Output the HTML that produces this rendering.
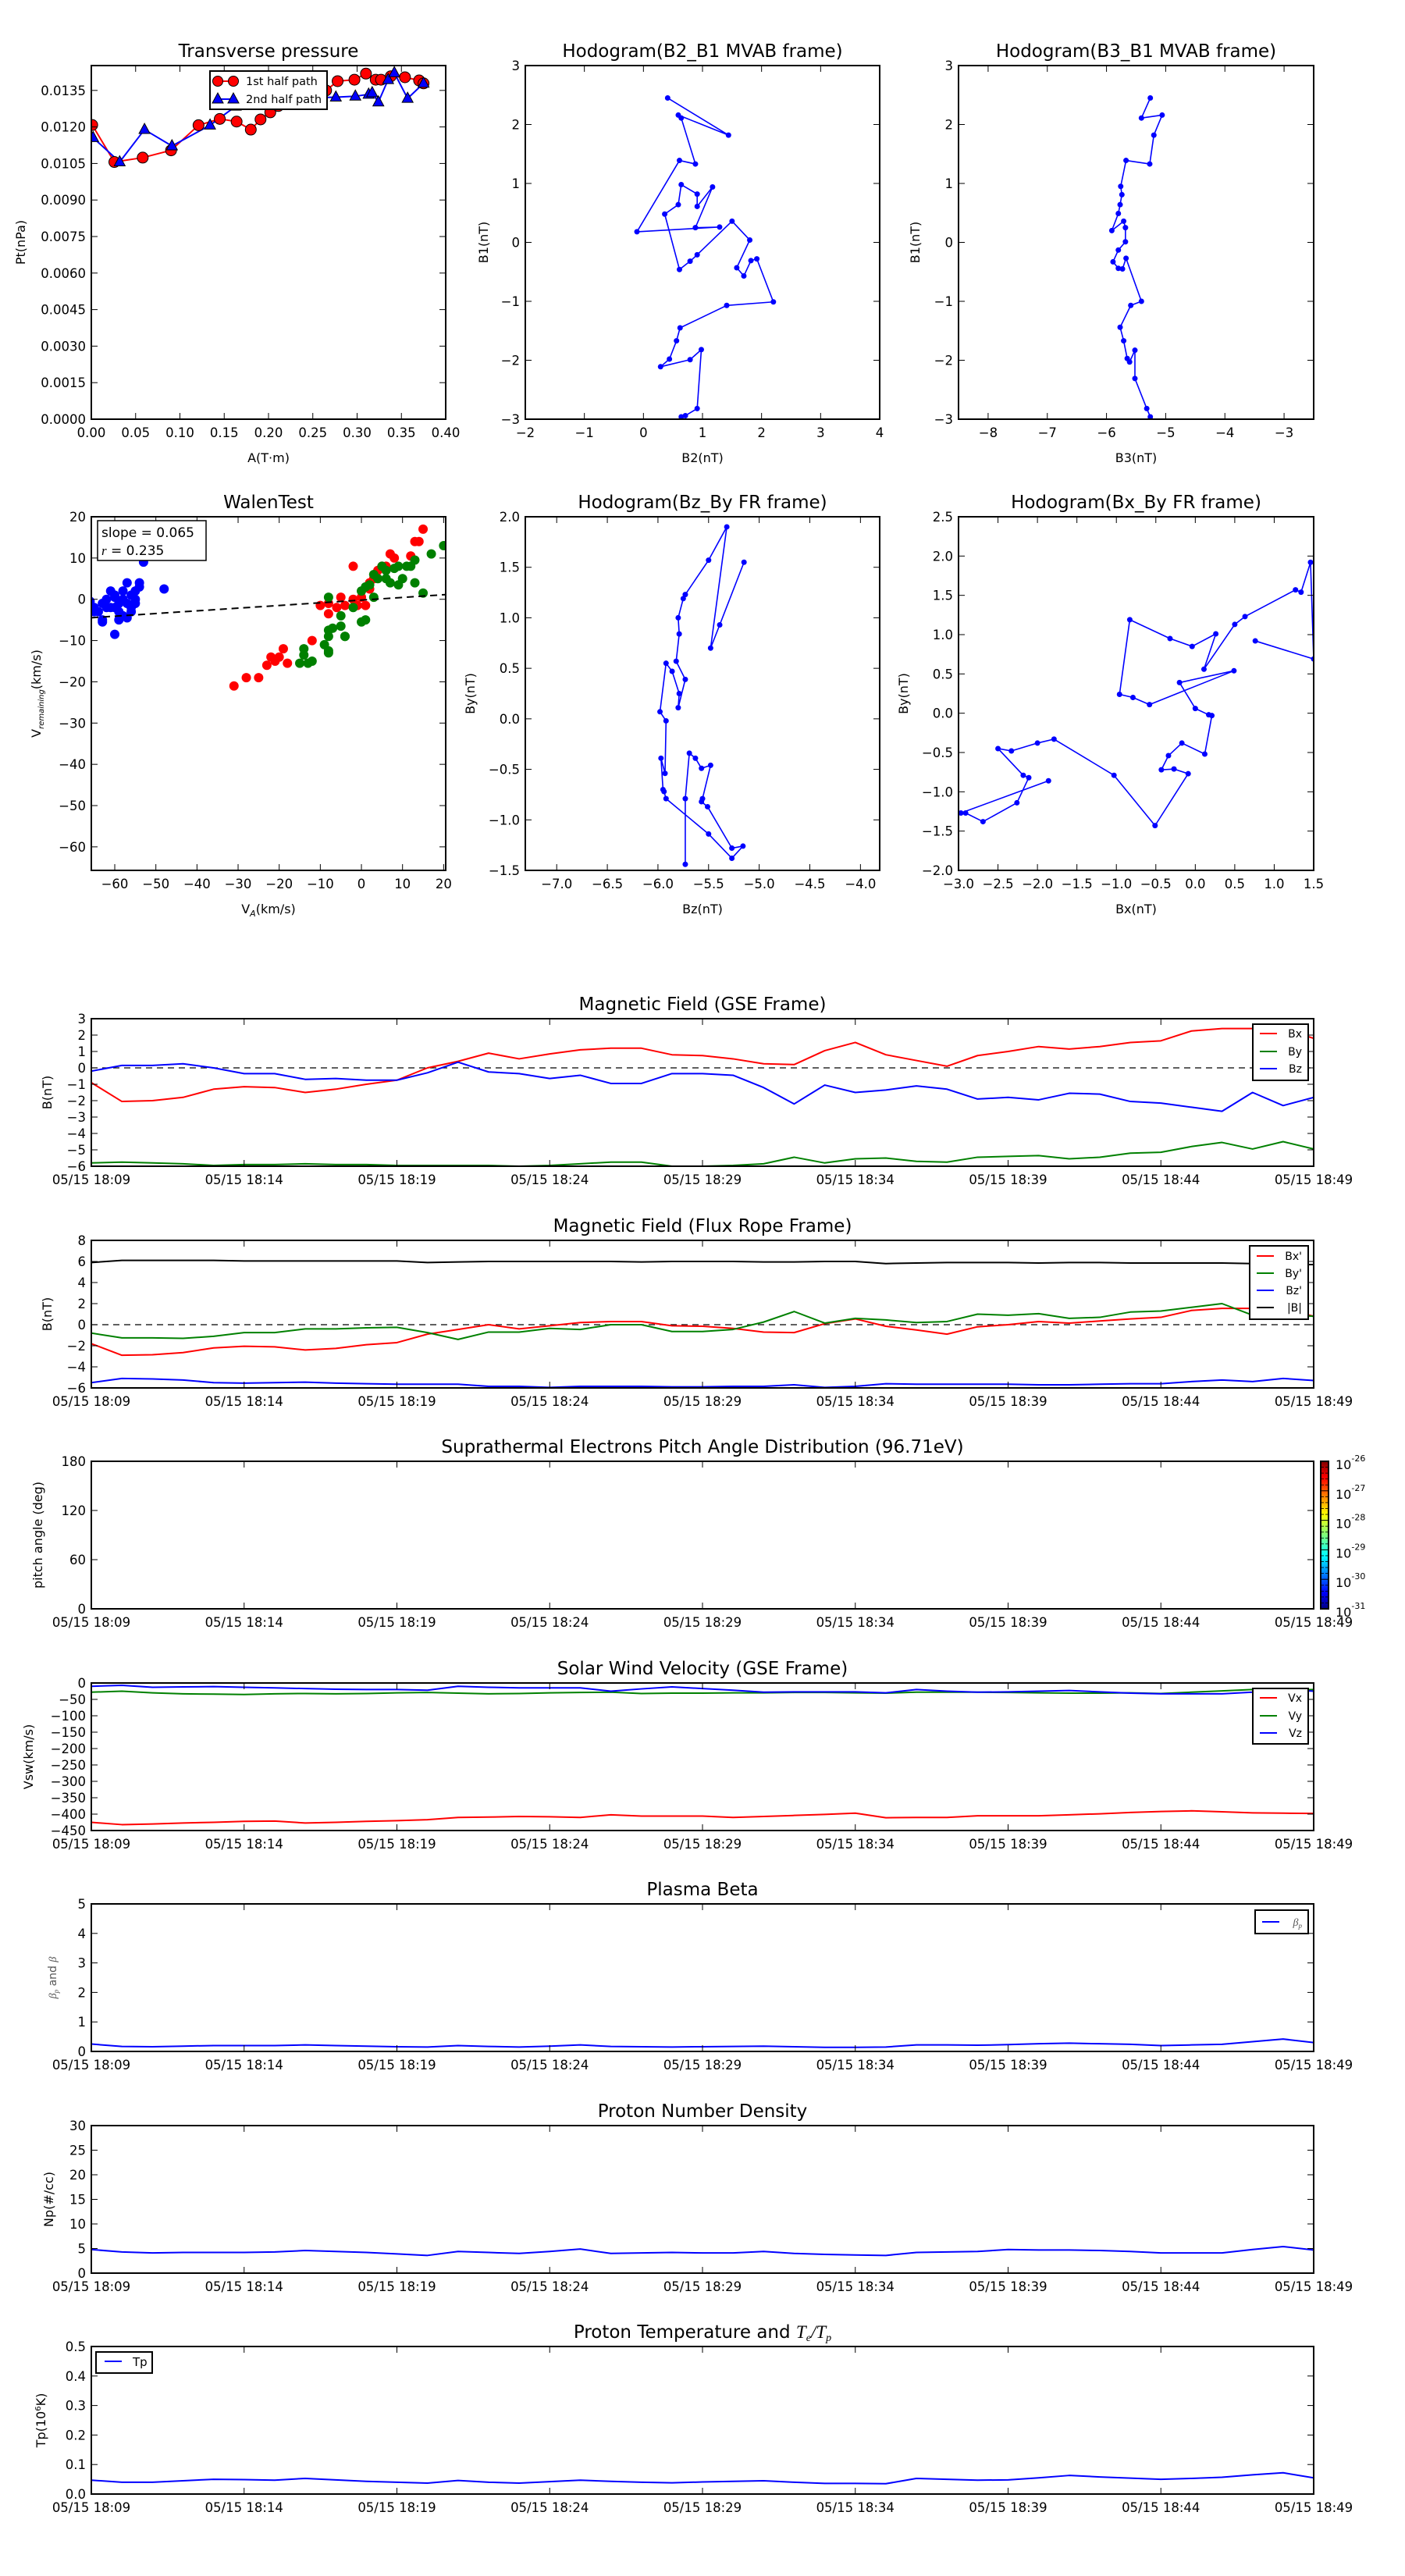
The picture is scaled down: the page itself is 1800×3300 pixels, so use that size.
<!DOCTYPE html>
<html><head><meta charset="utf-8"><title>Flux rope analysis</title>
<style>
html,body{margin:0;padding:0;background:#fff;}
svg{display:block;font-family:"DejaVu Sans","Liberation Sans",sans-serif;}
</style></head>
<body>
<svg id="fig" xmlns="http://www.w3.org/2000/svg" width="1800" height="3300" viewBox="0 0 1800 3300">
<defs>
<linearGradient id="jet" x1="0" y1="1" x2="0" y2="0">
<stop offset="0" stop-color="#000080"/><stop offset="0.11" stop-color="#0000ff"/><stop offset="0.36" stop-color="#00ffff"/><stop offset="0.5" stop-color="#7dff7a"/><stop offset="0.64" stop-color="#ffff00"/><stop offset="0.89" stop-color="#ff0000"/><stop offset="1" stop-color="#800000"/>
</linearGradient>
</defs>
<rect x="0" y="0" width="1800" height="3300" fill="#fff"/>
</svg>
<script>
// ---------- Transverse pressure ----------
const ptRedA=[0.001,0.026,0.058,0.090,0.121,0.145,0.164,0.180,0.191,0.202,0.211,0.230,0.250,0.265,0.278,0.297,0.310,0.321,0.327,0.338,0.354,0.370,0.375];
const ptRedP=[0.01208,0.01056,0.01074,0.01104,0.01207,0.01233,0.01222,0.01189,0.01231,0.01260,0.01286,0.01310,0.01330,0.01350,0.01388,0.01394,0.01419,0.01394,0.01394,0.01408,0.01404,0.01391,0.01379];
const ptBlueA=[0.002,0.032,0.060,0.091,0.134,0.163,0.190,0.230,0.255,0.276,0.298,0.313,0.317,0.324,0.335,0.342,0.357,0.375];
const ptBlueP=[0.01156,0.01056,0.01189,0.01122,0.01207,0.01285,0.01300,0.01310,0.01320,0.01322,0.01326,0.01334,0.01340,0.01302,0.01394,0.01422,0.01317,0.01379];
const ptXTicks=[0,0.05,0.1,0.15,0.2,0.25,0.3,0.35,0.4];
const ptXLabels=['0.00','0.05','0.10','0.15','0.20','0.25','0.30','0.35','0.40'];
const ptYTicks=[0,0.0015,0.003,0.0045,0.006,0.0075,0.009,0.0105,0.012,0.0135];
const ptYLabels=['0.0000','0.0015','0.0030','0.0045','0.0060','0.0075','0.0090','0.0105','0.0120','0.0135'];
// ---------- Hodogram B2_B1 ----------
const h1B2=[0.64,0.71,0.91,0.98,0.79,0.29,0.44,0.56,0.62,1.41,2.20,1.92,1.82,1.70,1.58,1.80,1.50,0.91,0.79,0.61,0.36,0.59,0.64,0.91,0.91,1.17,0.88,1.29,-0.11,0.61,0.88,0.64,0.59,1.44,0.41];
const h1B1=[-2.96,-2.94,-2.82,-1.82,-1.99,-2.11,-1.98,-1.67,-1.45,-1.07,-1.01,-0.28,-0.31,-0.57,-0.43,0.04,0.36,-0.21,-0.32,-0.46,0.48,0.64,0.98,0.82,0.61,0.94,0.25,0.26,0.18,1.39,1.33,2.11,2.16,1.82,2.45];
// ---------- Hodogram B3_B1 ----------
const h2B3=[-5.26,-5.32,-5.52,-5.52,-5.61,-5.65,-5.71,-5.77,-5.59,-5.41,-5.67,-5.73,-5.80,-5.89,-5.80,-5.68,-5.68,-5.71,-5.91,-5.80,-5.77,-5.74,-5.76,-5.67,-5.27,-5.20,-5.06,-5.41,-5.26];
const h2B1=[-2.96,-2.82,-2.31,-1.83,-2.03,-1.97,-1.67,-1.44,-1.07,-1.00,-0.27,-0.45,-0.44,-0.33,-0.13,0.01,0.25,0.36,0.20,0.49,0.64,0.81,0.95,1.39,1.33,1.82,2.16,2.11,2.45];
// ---------- Walen test ----------
const wBlueX=[-66,-65,-64,-63,-63,-63,-62,-61,-61,-60,-60,-60,-59,-59,-58,-58,-58,-57,-57,-57,-56,-56,-56,-55,-55,-54,-54,-53,-48,-65,-62,-59,-60,-55];
const wBlueY=[-0.5,-2,-3,-1,-5,-5.5,0,-2,2,1,-8.5,-2,-3,-1,0,-4,2,4,-4.5,-1,-2,-3,1,2,0,3,4,9,2.5,-3,-2,-5,0.5,-1];
const wRedX=[-31,-28,-25,-23,-22,-21,-20,-19,-18,-12,-10,-8,-8,-6,-5,-4,-2,-2,-1,1,2,2,3,4,5,6,7,8,12,13,14,15,0];
const wRedY=[-21,-19,-19,-16,-14,-15,-14,-12,-15.5,-10,-1.5,-3.5,-1,-2,0.5,-1.5,8,0,-1.5,-1.5,2.5,4,5,7,8,8,11,10,10.5,14,14,17,0.5];
const wGreenX=[-15,-14,-14,-13,-12,-9,-8,-8,-8,-8,-7,-8,-5,-5,-4,-4,-2,0,0,1,1,2,3,3,4,5,6,6,7,8,9,9,10,11,12,13,13,15,17,20];
const wGreenY=[-15.5,-12,-13.5,-15.5,-15,-11,-12.5,-13,-9,-7.5,-7,0.5,-4,-6.5,-9,-9,-2,-5.5,2,-5,3,3.5,0.5,6,5,8,5,7,4,7.5,3.5,8,5,8,8,9.5,4,1.5,11,13];
const walenSlope=0.065, walenIntercept=-0.2;
// ---------- Hodogram Bz_By ----------
const h3Bz=[-5.73,-5.73,-5.69,-5.63,-5.57,-5.48,-5.56,-5.57,-5.51,-5.27,-5.16,-5.27,-5.50,-5.92,-5.94,-5.95,-5.97,-5.93,-5.92,-5.98,-5.92,-5.86,-5.79,-5.80,-5.73,-5.82,-5.79,-5.80,-5.75,-5.73,-5.50,-5.32,-5.48,-5.39,-5.15];
const h3By=[-1.44,-0.79,-0.34,-0.39,-0.49,-0.46,-0.79,-0.82,-0.87,-1.28,-1.26,-1.38,-1.14,-0.79,-0.72,-0.70,-0.39,-0.54,-0.02,0.07,0.55,0.47,0.25,0.11,0.39,0.57,0.84,1.00,1.19,1.23,1.57,1.90,0.70,0.93,1.55];
// ---------- Hodogram Bx_By ----------
const h4Bx=[-1.86,-2.97,-2.91,-2.69,-2.26,-2.11,-2.18,-2.50,-2.33,-2.00,-1.79,-1.03,-0.51,-0.09,-0.27,-0.43,-0.34,-0.17,0.12,0.21,0.17,0.00,-0.20,0.49,-0.58,-0.79,-0.96,-0.83,-0.32,-0.04,0.26,0.11,0.50,0.63,1.27,1.34,1.46,1.50,0.76];
const h4By=[-0.86,-1.27,-1.27,-1.38,-1.14,-0.82,-0.79,-0.45,-0.48,-0.38,-0.33,-0.79,-1.43,-0.77,-0.71,-0.72,-0.54,-0.38,-0.52,-0.03,-0.02,0.06,0.39,0.54,0.11,0.20,0.24,1.19,0.95,0.85,1.01,0.56,1.13,1.23,1.57,1.54,1.92,0.69,0.92];
// ---------- Time series (1-minute samples, 18:09 .. 18:49) ----------
const timeTicks=[0,5,10,15,20,25,30,35,40];
const timeLabels=['05/15 18:09','05/15 18:14','05/15 18:19','05/15 18:24','05/15 18:29','05/15 18:34','05/15 18:39','05/15 18:44','05/15 18:49'];
const gseBx=[-0.9,-2.05,-2.0,-1.8,-1.3,-1.15,-1.2,-1.5,-1.3,-1.0,-0.75,0.0,0.4,0.9,0.55,0.85,1.1,1.2,1.2,0.8,0.75,0.55,0.25,0.2,1.05,1.55,0.8,0.45,0.1,0.75,1.0,1.3,1.15,1.3,1.55,1.65,2.25,2.4,2.4,2.4,1.8];
const gseBy=[-5.8,-5.75,-5.8,-5.85,-5.95,-5.9,-5.9,-5.85,-5.9,-5.9,-5.95,-5.95,-5.95,-5.95,-6.0,-5.95,-5.85,-5.75,-5.75,-6.0,-6.0,-5.95,-5.85,-5.45,-5.8,-5.55,-5.5,-5.7,-5.75,-5.45,-5.4,-5.35,-5.55,-5.45,-5.2,-5.15,-4.8,-4.55,-4.95,-4.5,-4.95];
const gseBz=[-0.2,0.15,0.15,0.25,0.0,-0.35,-0.35,-0.7,-0.65,-0.75,-0.75,-0.3,0.35,-0.25,-0.35,-0.65,-0.45,-0.95,-0.95,-0.35,-0.35,-0.45,-1.2,-2.2,-1.05,-1.5,-1.35,-1.1,-1.3,-1.9,-1.8,-1.95,-1.55,-1.6,-2.05,-2.15,-2.4,-2.65,-1.5,-2.3,-1.8];
const frBx=[-1.8,-2.9,-2.85,-2.65,-2.2,-2.05,-2.1,-2.4,-2.25,-1.9,-1.7,-0.9,-0.45,0.0,-0.4,-0.1,0.2,0.3,0.3,-0.1,-0.15,-0.35,-0.7,-0.75,0.1,0.55,-0.15,-0.5,-0.9,-0.2,0.0,0.3,0.15,0.35,0.55,0.7,1.35,1.55,1.55,1.5,0.8];
const frBy=[-0.8,-1.25,-1.25,-1.3,-1.1,-0.75,-0.75,-0.4,-0.4,-0.3,-0.25,-0.75,-1.4,-0.7,-0.7,-0.35,-0.45,0.0,0.0,-0.65,-0.65,-0.45,0.25,1.25,0.15,0.6,0.45,0.2,0.3,1.0,0.9,1.05,0.6,0.7,1.2,1.3,1.65,2.0,0.9,1.0,0.8];
const frBz=[-5.5,-5.1,-5.15,-5.25,-5.5,-5.55,-5.5,-5.45,-5.55,-5.6,-5.65,-5.65,-5.65,-5.85,-5.85,-5.95,-5.85,-5.85,-5.85,-5.9,-5.9,-5.85,-5.85,-5.7,-5.95,-5.85,-5.6,-5.65,-5.65,-5.65,-5.65,-5.7,-5.7,-5.65,-5.6,-5.6,-5.4,-5.25,-5.4,-5.1,-5.3];
const frBt=[5.9,6.1,6.1,6.1,6.1,6.05,6.05,6.05,6.05,6.05,6.05,5.9,5.95,6.0,6.0,6.0,6.0,6.0,5.95,6.0,6.0,6.0,5.95,5.95,6.0,6.0,5.8,5.85,5.9,5.9,5.9,5.85,5.9,5.9,5.85,5.85,5.85,5.85,5.8,5.7,5.7];
const vswVx=[-425,-432,-430,-427,-425,-422,-421,-427,-425,-422,-420,-417,-410,-409,-407,-408,-410,-402,-406,-406,-406,-410,-407,-404,-401,-397,-411,-410,-410,-405,-405,-405,-402,-399,-395,-392,-390,-393,-396,-397,-398];
const vswVy=[-28,-25,-30,-33,-34,-35,-33,-32,-33,-32,-30,-29,-31,-33,-32,-30,-29,-28,-32,-31,-31,-30,-30,-29,-29,-30,-31,-28,-28,-28,-29,-30,-31,-31,-30,-32,-28,-24,-20,-22,-20];
const vswVz=[-10,-7,-13,-12,-11,-13,-15,-17,-19,-20,-20,-22,-10,-13,-15,-15,-15,-25,-18,-12,-17,-22,-28,-27,-27,-27,-30,-20,-25,-28,-27,-25,-23,-27,-31,-33,-33,-33,-28,-20,-25];
const betaP=[0.25,0.17,0.16,0.18,0.2,0.2,0.2,0.22,0.2,0.18,0.16,0.15,0.2,0.17,0.15,0.18,0.22,0.17,0.16,0.15,0.16,0.17,0.18,0.16,0.14,0.14,0.15,0.22,0.22,0.21,0.23,0.26,0.28,0.26,0.24,0.2,0.22,0.24,0.33,0.42,0.3];
const protonNp=[4.8,4.3,4.1,4.2,4.2,4.2,4.3,4.6,4.4,4.2,3.9,3.6,4.4,4.2,4.0,4.4,4.9,4.0,4.1,4.2,4.1,4.1,4.4,4.0,3.8,3.7,3.6,4.2,4.3,4.4,4.8,4.7,4.7,4.6,4.4,4.1,4.1,4.1,4.8,5.4,4.7];
const protonTp=[0.047,0.04,0.04,0.045,0.05,0.049,0.047,0.053,0.048,0.043,0.04,0.037,0.046,0.04,0.037,0.042,0.047,0.043,0.04,0.038,0.041,0.043,0.045,0.04,0.036,0.036,0.035,0.053,0.05,0.047,0.048,0.055,0.063,0.058,0.054,0.05,0.053,0.057,0.065,0.072,0.055];
const cbExponents=['-26','-27','-28','-29','-30','-31'];

const NS='http://www.w3.org/2000/svg';
const svg=document.getElementById('fig');
let clipN=0;
function mk(tag,attrs,parent){const e=document.createElementNS(NS,tag);for(const k in attrs)e.setAttribute(k,attrs[k]);parent.appendChild(e);return e;}
function txt(parent,x,y,s,size,anchor,extra){const t=mk('text',Object.assign({x:x,y:y,'font-size':size,'text-anchor':anchor||'middle',fill:'#000'},extra||{}),parent);t.textContent=s;return t;}
function fmt(s){return String(s).replace(/-/g,'\u2212');}

function axes(o){
  const g=mk('g',{},svg);
  
  
  const sx=v=>o.x0+(v-o.xmin)/(o.xmax-o.xmin)*(o.x1-o.x0);
  const sy=v=>o.y1-(v-o.ymin)/(o.ymax-o.ymin)*(o.y1-o.y0);
  const id='c'+(clipN++);
  const cp=mk('clipPath',{id:id},g);
  mk('rect',{x:o.x0,y:o.y0,width:o.x1-o.x0,height:o.y1-o.y0},cp);
  const plot=mk('g',{'clip-path':'url(#'+id+')'},g);
  
  
  function finish(){
    const tk=mk('g',{stroke:'#000','stroke-width':1},g);
    
    
    o.xticks.forEach((v,i)=>{const X=sx(v);
      mk('line',{x1:X,x2:X,y1:o.y1,y2:o.y1-8},tk);mk('line',{x1:X,x2:X,y1:o.y0,y2:o.y0+8},tk);
      const t=txt(g,X,o.y1+23,fmt(o.xlabels[i]),16.5,'middle');
      
      });
    o.yticks.forEach((v,i)=>{const Y=sy(v);
      mk('line',{x1:o.x0,x2:o.x0+8,y1:Y,y2:Y},tk);mk('line',{x1:o.x1,x2:o.x1-8,y1:Y,y2:Y},tk);
      const t=txt(g,o.x0-7,Y+6,fmt(o.ylabels[i]),16.5,'end');
      
      });
    const fr=mk('rect',{x:o.x0,y:o.y0,width:o.x1-o.x0,height:o.y1-o.y0,fill:'none',stroke:'#000','stroke-width':2},g);
    
    
    const ti=txt(g,(o.x0+o.x1)/2,o.y0-11,'',23,'middle');
    if(o.titleHTML){ti.innerHTML=o.titleHTML;}else ti.textContent=o.title;
    
    
    if(o.xlabel){const xl=txt(g,(o.x0+o.x1)/2,o.y1+55,'',16,'middle');xl.innerHTML=o.xlabel;
      
      }
    if(o.ylabel){const yx=o.ylx,yy=(o.y0+o.y1)/2;const yl=txt(g,yx,yy,'',o.ylsize||16,'middle',{transform:'rotate(-90 '+yx+' '+yy+')',fill:o.ylcolor||'#000'});yl.innerHTML=o.ylabel;
      
      }
  }
  return {g,sx,sy,plot,finish};
}
function line(ax,xs,ys,color,name,w,dash){
  const p=mk('polyline',{points:xs.map((x,i)=>ax.sx(x)+','+ax.sy(ys[i])).join(' '),fill:'none',stroke:color,'stroke-width':w||2,'stroke-linejoin':'round'},ax.plot);
  if(dash)p.setAttribute('stroke-dasharray',dash);
  
  
  return p;
}
function dots(ax,xs,ys,color,r,name,stroke){
  const g=mk('g',{fill:color},ax.plot);
  
  
  xs.forEach((x,i)=>{const c=mk('circle',{cx:ax.sx(x),cy:ax.sy(ys[i]),r:r},g);if(stroke){c.setAttribute('stroke','#000');c.setAttribute('stroke-width',1);}
    
    });
}
function tris(ax,xs,ys,name){
  const g=mk('g',{fill:'#0000ff',stroke:'#000','stroke-width':1},ax.plot);
  
  
  xs.forEach((x,i)=>{const X=ax.sx(x),Y=ax.sy(ys[i]);const t=mk('polygon',{points:(X)+','+(Y-8)+' '+(X-7)+','+(Y+5)+' '+(X+7)+','+(Y+5)},g);
    
    });
}
function range(a,b,s){const r=[];for(let v=a;v<=b+1e-9;v+=s)r.push(Math.round(v*1000)/1000);return r;}
function legend(x,y,w,h,items,name){
  const g=mk('g',{},svg);
  
  
  mk('rect',{x:x,y:y,width:w,height:h,fill:'#fff',stroke:'#000','stroke-width':2},g);
  items.forEach(it=>{mk('line',{x1:x+9,x2:x+31,y1:it.y,y2:it.y,stroke:it.c,'stroke-width':2},g);
    const t=txt(g,x+w-8,it.y+5,'',14,'end');t.innerHTML=it.t;
    
    });
}

// ---- Transverse pressure
{const a=axes({name:'transverse-pressure-chart',x0:117,x1:571,y0:84,y1:537,xmin:0,xmax:0.4,ymin:0,ymax:0.01452,
 xticks:ptXTicks,xlabels:ptXLabels,yticks:ptYTicks,ylabels:ptYLabels,title:'Transverse pressure',xlabel:'A(T·m)',ylabel:'Pt(nPa)',ylx:32});
 line(a,ptRedA,ptRedP,'#ff0000','first-half-line');
 line(a,ptBlueA,ptBlueP,'#0000ff','second-half-line');
 dots(a,ptRedA,ptRedP,'#ff0000',7,'first-half-markers',true);
 tris(a,ptBlueA,ptBlueP,'second-half-markers');
 a.finish();
 const g=mk('g',{},svg);
 
 
 mk('rect',{x:269,y:91,width:150,height:49,fill:'#fff',stroke:'#000','stroke-width':2},g);
 mk('line',{x1:279,x2:299,y1:104,y2:104,stroke:'#ff0000','stroke-width':2},g);
 mk('circle',{cx:279,cy:104,r:6.5,fill:'#ff0000',stroke:'#000'},g);mk('circle',{cx:299,cy:104,r:6.5,fill:'#ff0000',stroke:'#000'},g);
 mk('line',{x1:279,x2:299,y1:127,y2:127,stroke:'#0000ff','stroke-width':2},g);
 mk('polygon',{points:'279,119 272,132 286,132',fill:'#0000ff',stroke:'#000'},g);mk('polygon',{points:'299,119 292,132 306,132',fill:'#0000ff',stroke:'#000'},g);
 const t1=txt(g,315,109,'1st half path',14.5,'start');
 
 
 const t2=txt(g,315,132,'2nd half path',14.5,'start');
 
 
}
// ---- Hodogram B2_B1
{const a=axes({name:'hodogram-b2-b1',x0:673,x1:1127,y0:84,y1:537,xmin:-2,xmax:4,ymin:-3,ymax:3,
 xticks:range(-2,4,1),xlabels:range(-2,4,1),yticks:range(-3,3,1),ylabels:range(-3,3,1),title:'Hodogram(B2_B1 MVAB frame)',xlabel:'B2(nT)',ylabel:'B1(nT)',ylx:625});
 line(a,h1B2,h1B1,'#0000ff','b2-b1-path',1.6);dots(a,h1B2,h1B1,'#0000ff',3.5,'b2-b1-points');a.finish();}
// ---- Hodogram B3_B1
{const a=axes({name:'hodogram-b3-b1',x0:1228,x1:1683,y0:84,y1:537,xmin:-8.5,xmax:-2.5,ymin:-3,ymax:3,
 xticks:range(-8,-3,1),xlabels:range(-8,-3,1),yticks:range(-3,3,1),ylabels:range(-3,3,1),title:'Hodogram(B3_B1 MVAB frame)',xlabel:'B3(nT)',ylabel:'B1(nT)',ylx:1178});
 line(a,h2B3,h2B1,'#0000ff','b3-b1-path',1.6);dots(a,h2B3,h2B1,'#0000ff',3.5,'b3-b1-points');a.finish();}
// ---- Walen test
{const a=axes({name:'walen-test-chart',x0:117,x1:571,y0:662,y1:1115,xmin:-65.7,xmax:20.5,ymin:-65.7,ymax:20,
 xticks:range(-60,20,10),xlabels:range(-60,20,10),yticks:range(-60,20,10),ylabels:range(-60,20,10),title:'WalenTest',
 xlabel:'V<tspan font-style="italic" font-size="11" dy="4">A</tspan><tspan dy="-4">(km/s)</tspan>',
 ylabel:'V<tspan font-style="italic" font-size="10" dy="4">remaining</tspan><tspan dy="-4">(km/s)</tspan>',ylx:52});
 dots(a,wBlueX,wBlueY,'#0000ff',6,'walen-blue-points');
 dots(a,wRedX,wRedY,'#ff0000',6,'walen-red-points');
 dots(a,wGreenX,wGreenY,'#008000',6,'walen-green-points');
 const fx=[-65.7,20.5];line(a,fx,fx.map(x=>walenSlope*x+walenIntercept),'#000','walen-fit-line',2,'9,6');
 a.finish();
 const g=mk('g',{},svg);
 
 
 mk('rect',{x:125,y:667,width:139,height:51,fill:'#fff',stroke:'#000','stroke-width':1.5},g);
 txt(g,130,688,'slope = 0.065',17,'start');
 const r=txt(g,130,711,'',17,'start');r.innerHTML='<tspan font-style="italic" font-family="Liberation Serif">r</tspan> = 0.235';
}
// ---- Hodogram Bz_By
{const a=axes({name:'hodogram-bz-by',x0:673,x1:1127,y0:662,y1:1115,xmin:-7.31,xmax:-3.81,ymin:-1.5,ymax:2.0,
 xticks:range(-7,-4,0.5),xlabels:range(-7,-4,0.5).map(v=>v.toFixed(1)),yticks:range(-1.5,2,0.5),ylabels:range(-1.5,2,0.5).map(v=>v.toFixed(1)),title:'Hodogram(Bz_By FR frame)',xlabel:'Bz(nT)',ylabel:'By(nT)',ylx:608});
 line(a,h3Bz,h3By,'#0000ff','bz-by-path',1.6);dots(a,h3Bz,h3By,'#0000ff',3.5,'bz-by-points');a.finish();}
// ---- Hodogram Bx_By
{const a=axes({name:'hodogram-bx-by',x0:1228,x1:1683,y0:662,y1:1115,xmin:-3,xmax:1.5,ymin:-2,ymax:2.5,
 xticks:range(-3,1.5,0.5),xlabels:range(-3,1.5,0.5).map(v=>v.toFixed(1)),yticks:range(-2,2.5,0.5),ylabels:range(-2,2.5,0.5).map(v=>v.toFixed(1)),title:'Hodogram(Bx_By FR frame)',xlabel:'Bx(nT)',ylabel:'By(nT)',ylx:1163});
 line(a,h4Bx,h4By,'#0000ff','bx-by-path',1.6);dots(a,h4Bx,h4By,'#0000ff',3.5,'bx-by-points');a.finish();}

// ---- Time series
const minutes=gseBx.map((_,i)=>i);
function ts(o){return axes(Object.assign({x0:117,x1:1683,xmin:0,xmax:40,xticks:timeTicks,xlabels:timeLabels},o));}
{const a=ts({name:'gse-magnetic-field-chart',y0:1305,y1:1494,ymin:-6,ymax:3,yticks:range(-6,3,1),ylabels:range(-6,3,1),title:'Magnetic Field (GSE Frame)',ylabel:'B(nT)',ylx:66});
 line(a,[0,40],[0,0],'#000','zero-line',1.2,'8,6');
 line(a,minutes,gseBx,'#ff0000','bx-line');line(a,minutes,gseBy,'#008000','by-line');line(a,minutes,gseBz,'#0000ff','bz-line');a.finish();
 legend(1605,1312,71,72,[{y:1324,c:'#ff0000',t:'Bx'},{y:1347,c:'#008000',t:'By'},{y:1369,c:'#0000ff',t:'Bz'}],'gse-legend');}
{const a=ts({name:'flux-rope-field-chart',y0:1589,y1:1778,ymin:-6,ymax:8,yticks:range(-6,8,2),ylabels:range(-6,8,2),title:'Magnetic Field (Flux Rope Frame)',ylabel:'B(nT)',ylx:66});
 line(a,[0,40],[0,0],'#000','zero-line',1.2,'8,6');
 line(a,minutes,frBx,'#ff0000','bx-prime-line');line(a,minutes,frBy,'#008000','by-prime-line');line(a,minutes,frBz,'#0000ff','bz-prime-line');line(a,minutes,frBt,'#000','b-magnitude-line');a.finish();
 legend(1601,1596,75,94,[{y:1609,c:'#ff0000',t:"Bx'"},{y:1631,c:'#008000',t:"By'"},{y:1653,c:'#0000ff',t:"Bz'"},{y:1675,c:'#000',t:'|B|'}],'flux-rope-legend');}
{const a=ts({name:'pitch-angle-chart',y0:1872,y1:2061,ymin:0,ymax:180,yticks:[0,60,120,180],ylabels:[0,60,120,180],title:'Suprathermal Electrons Pitch Angle Distribution (96.71eV)',ylabel:'pitch angle (deg)',ylx:54});
 a.finish();
 const g=mk('g',{},svg);
 
 
 mk('rect',{x:1692,y:1872,width:10,height:189,fill:'url(#jet)',stroke:'#000','stroke-width':2},g);
 cbExponents.forEach((e,i)=>{const Y=1872+i*189/5;
   mk('line',{x1:1692,x2:1702,y1:Y,y2:Y,stroke:'#000','stroke-width':1},g);
   for(let k=1;k<5&&i<5;k++){const y2=Y+k*189/25;mk('line',{x1:1692,x2:1696,y1:y2,y2:y2,stroke:'#000','stroke-width':0.8},g);mk('line',{x1:1698,x2:1702,y1:y2,y2:y2,stroke:'#000','stroke-width':0.8},g);}
   const t=txt(g,1711,Y+10,'',16,'start');t.innerHTML='10<tspan dy="-10" font-size="11">'+e+'</tspan>';
   
   });
}
{const a=ts({name:'solar-wind-velocity-chart',y0:2156,y1:2345,ymin:-450,ymax:0,yticks:range(-450,0,50),ylabels:range(-450,0,50),title:'Solar Wind Velocity (GSE Frame)',ylabel:'Vsw(km/s)',ylx:42});
 line(a,minutes,vswVx,'#ff0000','vx-line');line(a,minutes,vswVy,'#008000','vy-line');line(a,minutes,vswVz,'#0000ff','vz-line');a.finish();
 legend(1605,2163,71,71,[{y:2175,c:'#ff0000',t:'Vx'},{y:2198,c:'#008000',t:'Vy'},{y:2220,c:'#0000ff',t:'Vz'}],'velocity-legend');}
{const a=ts({name:'plasma-beta-chart',y0:2439,y1:2628,ymin:0,ymax:5,yticks:range(0,5,1),ylabels:range(0,5,1),title:'Plasma Beta',
 ylabel:'<tspan font-style="italic" font-family="Liberation Serif">β<tspan font-size="9" dy="3">p</tspan></tspan><tspan dy="-3"> and </tspan><tspan font-style="italic" font-family="Liberation Serif">β</tspan>',ylx:72,ylsize:14,ylcolor:'#555'});
 line(a,minutes,betaP,'#0000ff','beta-p-line');a.finish();
 legend(1608,2447,68,30,[{y:2462,c:'#0000ff',t:'<tspan font-style="italic" font-family="Liberation Serif" fill="#555">β<tspan font-size="9" dy="3">p</tspan></tspan>'}],'beta-legend');}
{const a=ts({name:'proton-density-chart',y0:2723,y1:2912,ymin:0,ymax:30,yticks:range(0,30,5),ylabels:range(0,30,5),title:'Proton Number Density',ylabel:'Np(#/cc)',ylx:68});
 line(a,minutes,protonNp,'#0000ff','np-line');a.finish();}
{const a=ts({name:'proton-temperature-chart',y0:3006,y1:3195,ymin:0,ymax:0.5,yticks:range(0,0.5,0.1),ylabels:range(0,0.5,0.1).map(v=>v.toFixed(1)),
 titleHTML:'Proton Temperature and <tspan font-style="italic" font-family="Liberation Serif">T<tspan font-size="14" dy="4">e</tspan><tspan dy="-4">/T</tspan><tspan font-size="14" dy="4">p</tspan></tspan>',
 ylabel:'Tp(10<tspan font-size="10" dy="-6">6</tspan><tspan dy="6">K)</tspan>',ylx:58});
 line(a,minutes,protonTp,'#0000ff','tp-line');a.finish();
 const g=mk('g',{},svg);
 
 
 mk('rect',{x:123,y:3013,width:72,height:27,fill:'#fff',stroke:'#000','stroke-width':2},g);
 mk('line',{x1:134,x2:156,y1:3025,y2:3025,stroke:'#0000ff','stroke-width':2},g);
 txt(g,170,3031,'Tp',15,'start');
}
</script>
</body></html>
